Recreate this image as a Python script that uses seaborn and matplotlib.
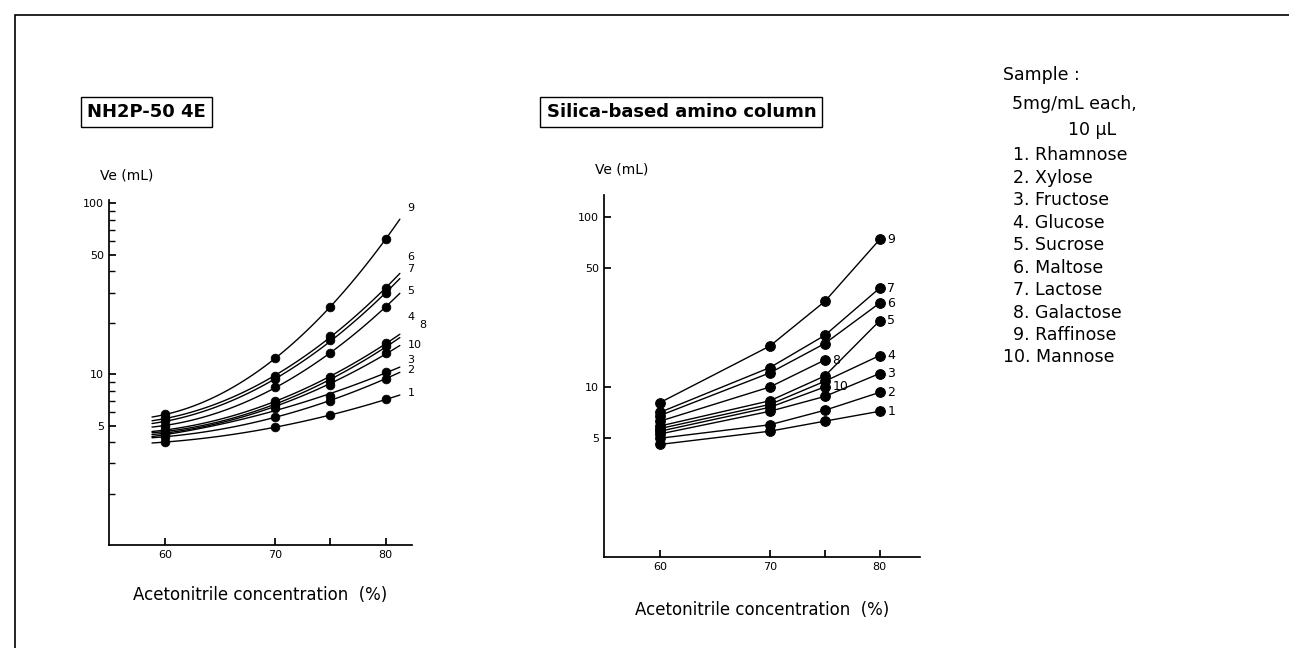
import numpy as np
import matplotlib
matplotlib.use("Agg")
import matplotlib.pyplot as plt
import seaborn as sns
from matplotlib.patches import Rectangle

sns.set_theme(style="ticks")
plt.rcParams['font.family'] = ['DejaVu Sans']
plt.rcParams['text.color'] = 'black'
plt.rcParams['xtick.color'] = 'black'
plt.rcParams['ytick.color'] = 'black'
plt.rcParams['axes.edgecolor'] = 'black'

# ---- data ----
conc = [60, 70, 75, 80]
sugar_ids = ["1", "2", "3", "4", "5", "6", "7", "8", "9", "10"]

# NH2P-50 4E (Ve, mL)
nh2p = {
    "1": [4.0, 4.9, 5.75, 7.1],
    "2": [4.3, 5.6, 7.0, 9.4],
    "3": [4.4, 6.3, 7.4, 10.3],
    "4": [4.7, 7.0, 9.6, 15.1],
    "5": [5.0, 8.4, 13.2, 24.8],
    "6": [5.5, 9.8, 16.6, 31.8],
    "7": [5.3, 9.3, 15.8, 29.7],
    "8": [4.6, 6.8, 9.1, 14.5],
    "9": [5.8, 12.4, 24.8, 61.5],
    "10": [4.5, 6.6, 8.6, 13.2],
}

# Silica-based amino column (Ve, mL); 8 and 10 end at 75 %
silica = {
    "1": [4.6, 5.5, 6.3, 7.2],
    "2": [5.0, 6.0, 7.3, 9.3],
    "3": [5.3, 7.2, 8.8, 12.0],
    "4": [5.7, 7.9, 10.8, 15.3],
    "5": [5.9, 8.3, 11.6, 24.5],
    "6": [6.8, 12.1, 18.0, 31.1],
    "7": [7.1, 13.0, 20.1, 38.1],
    "8": [6.3, 10.0, 14.4],
    "9": [8.1, 17.4, 31.8, 73.5],
    "10": [5.5, 7.6, 10.0],
}

legend_lines = [("Sample :", 1003), ("5mg/mL each,", 1012), ("10 \u03bcL", 1068),
                ("1. Rhamnose", 1013), ("2. Xylose", 1013), ("3. Fructose", 1013),
                ("4. Glucose", 1013), ("5. Sucrose", 1013), ("6. Maltose", 1013),
                ("7. Lactose", 1013), ("8. Galactose", 1013), ("9. Raffinose", 1013),
                ("10. Mannose", 1003)]
legend_y = [75, 104, 130, 155, 178, 200, 223, 245, 268, 290, 313, 335, 357]

# left-plot label offsets (dx in %, dy in log units)
nh2p_lab = {"1": (0, 0), "2": (0, 0), "3": (0, 0.03), "4": (0, 0.08), "5": (0, -0.02),
            "6": (0, 0.06), "7": (0, 0.02), "8": (1.1, 0.05), "9": (0, 0.02), "10": (0, -0.02)}

fig = plt.figure(figsize=(12.89, 6.48), dpi=100)
fig.patches.append(Rectangle((0.012, -0.01), 1.0, 0.987, transform=fig.transFigure,
                             fill=False, edgecolor="black", lw=1.2))

ax1 = fig.add_axes([0.0846, 0.159, 0.235, 0.532])
ax2 = fig.add_axes([0.4686, 0.140, 0.2454, 0.559])

# left: smooth fitted curves (quadratic in log space)
xs = np.linspace(58.8, 81.3, 100)
for sid in sugar_ids:
    y = np.array(nh2p[sid])
    coef = np.polyfit(conc, np.log10(y), 2)
    ax1.plot(xs, 10 ** np.polyval(coef, xs), color="black", lw=1)
    sns.scatterplot(x=conc, y=y, ax=ax1, color="black", s=40, edgecolor="black", zorder=3)
    dx, dy = nh2p_lab[sid]
    yl = 10 ** (np.polyval(coef, 81.8) + dy)
    ax1.text(82.0 + dx, yl, sid, fontsize=8, va="center")

# right: straight segments
for sid in sugar_ids:
    y = silica[sid]
    x = conc[:len(y)]
    sns.lineplot(x=x, y=y, ax=ax2, color="black", lw=1, marker="o", markersize=7,
                 markeredgecolor="black")
    ax2.text(x[-1] + 0.7, y[-1], sid, fontsize=9, va="center")

for ax, xlim, ylim in [(ax1, (54.9, 82.4), (1, 104)), (ax2, (54.9, 83.7), (1, 134))]:
    ax.set_yscale("log")
    ax.set_xlim(*xlim)
    ax.set_ylim(*ylim)
    ax.set_xticks([60, 70, 75, 80])
    ax.set_xticklabels(["60", "70", "", "80"], fontsize=8)
    ax.set_yticks([5, 10, 50, 100])
    ax.set_yticklabels(["5", "10", "50", "100"], fontsize=8)
    ax.tick_params(axis="y", direction="in", length=5)
    ax.tick_params(axis="x", direction="in", length=5)
    ax.set_xlabel("")
    ax.set_ylabel("")
    sns.despine(ax=ax)
    ax.text(-0.03, 1.06, "Ve (mL)", transform=ax.transAxes, fontsize=10)
    ax.text(0.5, -0.16, "Acetonitrile concentration  (%)", transform=ax.transAxes,
            fontsize=12, ha="center")

ax1.set_yticks([2, 3, 4, 6, 7, 8, 9, 20, 30, 40, 60, 70, 80, 90], minor=True)
ax1.set_yticklabels([], minor=True)
ax1.tick_params(axis="y", which="minor", direction="in", length=4)
ax2.set_yticks([], minor=True)

fig.text(0.0675, 0.827, "NH2P-50 4E", fontsize=13, va="center", fontweight="semibold",
         bbox=dict(boxstyle="square,pad=0.35", fc="white", ec="black", lw=1))
fig.text(0.424, 0.827, "Silica-based amino column", fontsize=13, va="center",
         fontweight="semibold",
         bbox=dict(boxstyle="square,pad=0.35", fc="white", ec="black", lw=1))

for (line, px), py in zip(legend_lines, legend_y):
    fig.text(px / 1289, 1 - py / 648, line, fontsize=12.5, va="center")

fig.savefig("out.png", dpi=100)
